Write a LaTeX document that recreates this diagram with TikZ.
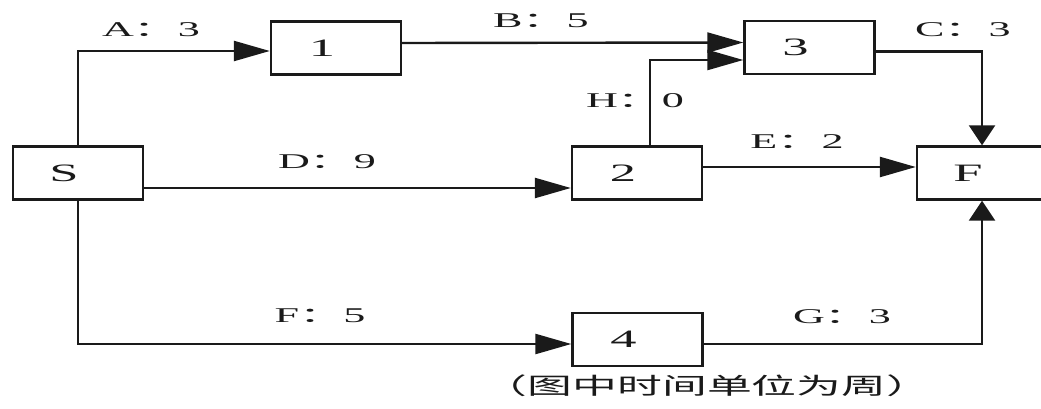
\documentclass[tikz,border=0pt]{standalone}
\usepackage{fontspec}
\usepackage{graphicx}
\setmainfont{Liberation Serif}
\newfontfamily\cjk{Noto Sans CJK SC}
\usetikzlibrary{arrows.meta,calc}
\newcommand\wx[1]{\scalebox{2.1}[1]{#1}}
\newcommand\elab[2]{\wx{#1{\cjk ：}#2}}
\definecolor{ink}{HTML}{1A1A1A}
\begin{document}
\begin{tikzpicture}[x=1pt,y=-1pt,
  box/.style={draw=ink, line width=2.4pt, minimum width=130pt, minimum height=53pt, inner sep=0pt},
  boxtxt/.style={font=\fontsize{25}{28}\selectfont, text=ink, xshift=-14pt, inner sep=0pt},
  conn/.style={draw=ink, line width=2.4pt},
  harr/.style={conn, -{Triangle[length=36pt,width=20pt]}},
  varr/.style={conn, -{Triangle[length=20pt,width=26pt]}},
  elabel/.style={font=\fontsize{21}{24}\selectfont, text=ink, anchor=base, inner sep=0pt},
  caption/.style={font=\cjk\fontsize{23}{26}\selectfont, text=ink, inner sep=0pt}]
\fill[white] (0,0) rectangle (1041,409);
\useasboundingbox (0,0) rectangle (1041,409);
\clip (0,0) rectangle (1041,409);

\node[box, label={[boxtxt]center:\wx{S}}] (S) at (78,173) {};
\node[box, label={[boxtxt]center:\wx{1}}] (n1) at (336,48) {};
\node[box, label={[boxtxt]center:\wx{3}}] (n3) at (809.5,47.5) {};
\node[box, label={[boxtxt]center:\wx{2}}] (n2) at (637,173) {};
\node[box, label={[boxtxt]center:\wx{F}}] (F) at (982,173) {};
\node[box, label={[boxtxt]center:\wx{4}}] (n4) at (637.5,339.5) {};

\draw[harr] (S.north) |- ($(n1.west)+(0,3)$);
\draw[harr] ($(n1.east)+(0,-5)$) -- ($(n3.west)+(0,-5)$);
\draw[harr] ($(n2.north)+(13,0)$) |- ($(n3.west)+(0,12.5)$);
\draw[varr] ($(n3.east)+(0,4)$) -| (F.north);
\draw[harr] ($(S.east)+(0,15)$) -- ($(n2.west)+(0,15)$);
\draw[harr] ($(n2.east)+(0,-6)$) -- ($(F.west)+(0,-6)$);
\draw[harr] (S.south) |- ($(n4.west)+(0,4.5)$);
\draw[varr] ($(n4.east)+(0,4.5)$) -| (F.south);

\node[elabel] (lA) at (151,37) {\elab{A}{3}};
\node[elabel] (lB) at (541,28) {\elab{B}{5}};
\node[elabel] (lC) at (963,37) {\elab{C}{3}};
\node[elabel] (lH) at (635,108) {\elab{H}{0}};
\node[elabel] (lE) at (797,148) {\elab{E}{2}};
\node[elabel] (lD) at (327,168) {\elab{D}{9}};
\node[elabel] (lF) at (320,322) {\elab{F}{5}};
\node[elabel] (lG) at (842,323) {\elab{G}{3}};
\node[caption] (cap) at (707,386) {\scalebox{1.95}[1]{（图中时间单位为周）}};
\end{tikzpicture}
\end{document}
